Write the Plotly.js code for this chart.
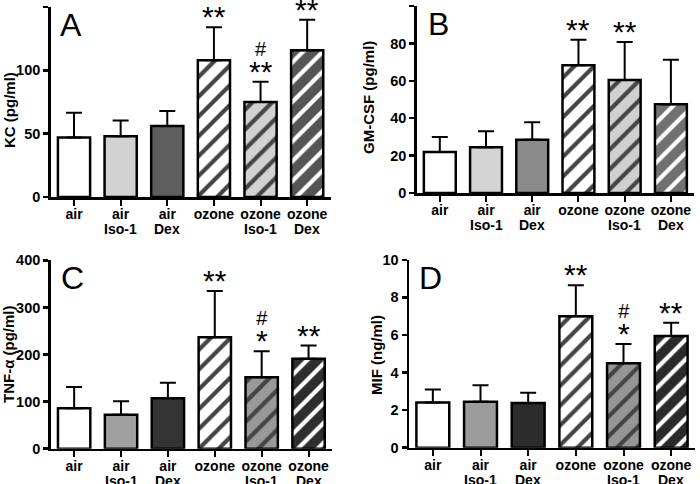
<!DOCTYPE html>
<html>
<head>
<meta charset="utf-8">
<script src="https://cdn.plot.ly/plotly-3.0.1.min.js"></script>
<style>html,body{margin:0;padding:0;background:#fff;}#chart{width:700px;height:484px;}</style>
</head>
<body>
<div id="chart"></div>
<script>
// ---- data ----
const categories = ['air', 'air Iso-1', 'air Dex', 'ozone', 'ozone Iso-1', 'ozone Dex'];
const tickLine1 = ['air', 'air', 'air', 'ozone', 'ozone', 'ozone'];
const tickLine2 = ['', 'Iso-1', 'Dex', '', 'Iso-1', 'Dex'];
const kcMean  = [47, 48, 56, 108, 75, 116];
const kcErr   = [19.5, 12.5, 12, 26, 16, 24];
const gmMean  = [22, 24.5, 28.5, 68.3, 60.5, 47.5];
const gmErr   = [8, 8.5, 9.3, 13.7, 20.3, 23.8];
const tnfMean = [86, 72, 107, 237, 152, 191];
const tnfErr  = [45, 29, 33, 98, 55, 28];
const mifMean = [2.4, 2.45, 2.38, 7.0, 4.5, 5.95];
const mifErr  = [0.7, 0.88, 0.54, 1.65, 1.02, 0.7];
const yTitles = ['KC (pg/ml)', 'GM-CSF (pg/ml)', 'TNF-α (pg/ml)', 'MIF (ng/ml)'];
const yMax    = [150, 100, 400, 10];
const yDtick  = [50, 20, 100, 2];
const panelLetters = ['A', 'B', 'C', 'D'];
// significance marks: [category index, stars, hash]
const marksA = [[3, '**', ''], [4, '**', '#'], [5, '**', '']];
const marksB = [[3, '**', ''], [4, '**', '']];
const marksC = [[3, '**', ''], [4, '*', '#'], [5, '**', '']];
const marksD = [[3, '**', ''], [4, '*', '#'], [5, '**', '']];

// ---- styles ----
const colA = ['#ffffff', '#d2d2d2', '#5e5e5e', '#ffffff', '#d2d2d2', '#555555'];
const colB = ['#ffffff', '#d4d4d4', '#8a8a8a', '#ffffff', '#d0d0d0', '#707070'];
const colC = ['#ffffff', '#a0a0a0', '#333333', '#ffffff', '#999999', '#2e2e2e'];
const colD = ['#ffffff', '#9c9c9c', '#2c2c2c', '#ffffff', '#969696', '#2a2a2a'];
const shapes = ['', '', '', '/', '/', '/'];

const means = [kcMean, gmMean, tnfMean, mifMean];
const errs = [kcErr, gmErr, tnfErr, mifErr];
const cols = [colA, colB, colC, colD];
const marks = [marksA, marksB, marksC, marksD];

const xDomains = [[50.7/700, 330.5/700], [416.7/700, 694/700], [50.7/700, 332/700], [409/700, 695/700]];
const yDomains = [[1-197/484, 1-7/484], [1-193/484, 1-6/484], [1-448.7/484, 1-260.3/484], [1-447.7/484, 1-259.7/484]];
const titleX = [9, 368, 8, 376];
const titleY = [110, 98, 354, 355];
const letterX = [58, 426, 59, 417];
const letterY = [25, 24, 278, 278];

const FONT = 'Liberation Sans, Arial, sans-serif';
const TICKSIZE = 14;
const traces = [];
const layout = {
  width: 700, height: 484,
  margin: {l: 0, r: 0, t: 0, b: 0},
  paper_bgcolor: '#fff', plot_bgcolor: 'rgba(0,0,0,0)',
  showlegend: false, bargap: 0.31,
  font: {family: FONT, color: '#000'},
  annotations: []
};

for (let i = 0; i < 4; i++) {
  const sfx = i === 0 ? '' : String(i + 1);
  traces.push({
    type: 'bar', x: categories, y: means[i],
    xaxis: 'x' + sfx, yaxis: 'y' + sfx,
    marker: {
      color: cols[i],
      line: {color: '#000', width: 2.5},
      pattern: {shape: shapes, fgcolor: '#000', fgopacity: 1, size: 14, solidity: 0.3, fillmode: 'overlay'}
    },
    error_y: {type: 'data', symmetric: false, array: errs[i], arrayminus: [0,0,0,0,0,0],
              color: '#000', thickness: 2, width: 8},
    hoverinfo: 'none'
  });
  layout['xaxis' + sfx] = {
    domain: xDomains[i], anchor: 'y' + sfx, type: 'category',
    range: [-0.5, 5.5], showgrid: false, zeroline: false,
    showline: true, linecolor: '#000', linewidth: 2.5,
    ticks: 'outside', ticklen: 6, tickwidth: 2, tickcolor: '#000',
    tickmode: 'array', tickvals: categories, ticktext: tickLine1,
    ticklabelstandoff: -3,
    tickfont: {family: FONT, size: TICKSIZE, weight: 'bold', color: '#000'}
  };
  layout['yaxis' + sfx] = {
    domain: yDomains[i], anchor: 'x' + sfx,
    range: [0, yMax[i] * 1.0005], dtick: yDtick[i], tick0: 0, showgrid: false, zeroline: false,
    showline: true, linecolor: '#000', linewidth: 2.5,
    ticks: 'outside', ticklen: 5, tickwidth: 2.5, tickcolor: '#000',
    tickfont: {family: FONT, size: 14.5, weight: 'bold', color: '#000'}
  };
  layout.annotations.push({
    xref: 'paper', yref: 'paper', x: titleX[i] / 700, y: 1 - titleY[i] / 484,
    xanchor: 'center', yanchor: 'middle', textangle: -90, showarrow: false,
    text: yTitles[i], font: {family: FONT, size: 15, weight: 'bold', color: '#000'}
  });
  layout.annotations.push({
    xref: 'paper', yref: 'paper', x: letterX[i] / 700, y: 1 - letterY[i] / 484,
    xanchor: 'left', yanchor: 'middle', showarrow: false,
    text: panelLetters[i], font: {family: FONT, size: 32, color: '#000'}
  });
  tickLine2.forEach((t, k) => {
    if (!t) return;
    layout.annotations.push({
      xref: 'x' + sfx, yref: 'y' + sfx + ' domain', x: categories[k], y: 0,
      xanchor: 'center', yanchor: 'middle', yshift: -32, showarrow: false,
      text: t, font: {family: FONT, size: TICKSIZE, weight: 'bold', color: '#000'}
    });
  });
  marks[i].forEach(m => {
    const k = m[0];
    const top = means[i][k] + errs[i][k];
    const combo = !!m[2];
    const txt = combo
      ? m[2] + '<br><span style="font-size:30px">' + m[1] + '</span>'
      : m[1];
    layout.annotations.push({
      xref: 'x' + sfx, yref: 'y' + sfx, x: categories[k], y: top,
      xanchor: 'center', yanchor: 'bottom', yshift: -8, showarrow: false,
      text: txt, font: {family: FONT, size: combo ? 20 : 30, color: '#000'}
    });
  });
}

Plotly.newPlot('chart', traces, layout, {staticPlot: true});
</script>
</body>
</html>
